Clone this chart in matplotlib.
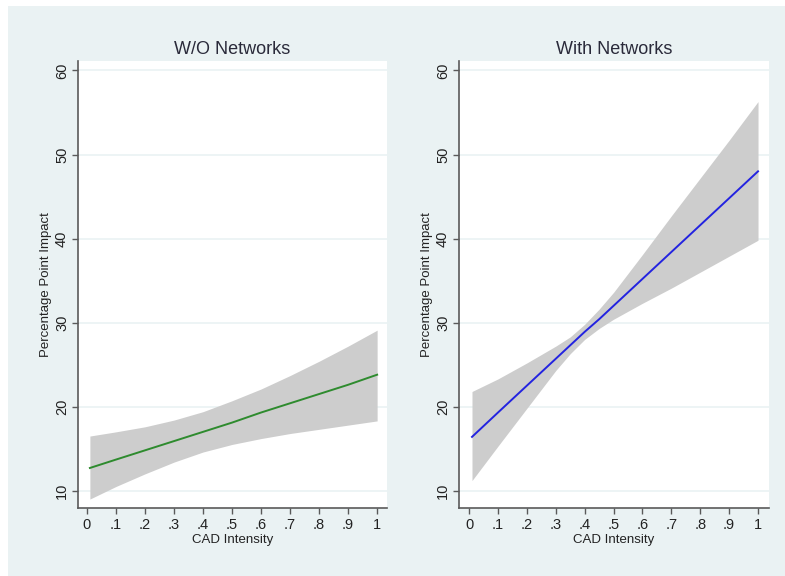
import matplotlib
matplotlib.use('Agg')
import matplotlib.pyplot as plt
from matplotlib.patches import Rectangle

plt.rcParams['font.family'] = ['Liberation Sans', 'DejaVu Sans']

# W/O Networks
cad_wo = [0.01, 0.1, 0.2, 0.3, 0.4, 0.5, 0.6, 0.7, 0.8, 0.9, 1.0]
wo_fit = [12.7, 13.7, 14.8, 15.9, 17.0, 18.1, 19.3, 20.4, 21.5, 22.6, 23.8]
wo_lo = [9.0, 10.5, 12.0, 13.4, 14.6, 15.5, 16.2, 16.8, 17.3, 17.8, 18.3]
wo_hi = [16.5, 17.0, 17.6, 18.4, 19.4, 20.7, 22.1, 23.7, 25.4, 27.2, 29.1]

# With Networks
cad_wn = [0.01, 0.1, 0.2, 0.3, 0.35, 0.4, 0.45, 0.5, 0.6, 0.7, 0.8, 0.9, 1.0]
wn_fit = [16.4, 19.3, 22.5, 25.7, 27.3, 28.9, 30.4, 32.0, 35.2, 38.4, 41.6, 44.8, 48.0]
wn_lo = [11.2, 15.3, 19.8, 24.3, 26.3, 28.0, 29.3, 30.4, 32.3, 34.1, 36.0, 37.9, 39.8]
wn_hi = [21.8, 23.3, 25.2, 27.2, 28.3, 29.8, 31.6, 33.6, 38.1, 42.7, 47.2, 51.7, 56.3]

xticks = [0, .1, .2, .3, .4, .5, .6, .7, .8, .9, 1]
xtick_labels = ['0', '.1', '.2', '.3', '.4', '.5', '.6', '.7', '.8', '.9', '1']
yticks = [10, 20, 30, 40, 50, 60]

bg = '#eaf2f3'
axis_col = '#5a5a5a'

fig = plt.figure(figsize=(7.85, 5.76), dpi=100)
fig.patch.set_facecolor('white')
fig.add_artist(Rectangle((8 / 785, 0), 1, 570 / 576, transform=fig.transFigure,
                         facecolor=bg, edgecolor='none', zorder=-10))

panels = [
    ('W/O Networks', cad_wo, wo_fit, wo_lo, wo_hi, '#2e8b2e',
     [78 / 785, 0.1181, 309 / 785, 0.776], (-0.031, 1.034)),
    ('With Networks', cad_wn, wn_fit, wn_lo, wn_hi, '#2323e0',
     [459 / 785, 0.1181, 310 / 785, 0.776], (-0.035, 1.038)),
]

for title, x, fit, lo, hi, col, rect, xl in panels:
    ax = fig.add_axes(rect)
    ax.set_facecolor('white')
    for y in yticks:
        ax.axhline(y, color=bg, lw=1.2, zorder=1)
    ax.fill_between(x, lo, hi, color='#cdcdcd', lw=0, zorder=2)
    ax.plot(x, fit, color=col, lw=1.4, zorder=3)

    ax.set_xlim(*xl)
    ax.set_ylim(7.94, 61.13)
    ax.set_xticks(xticks)
    ax.set_xticklabels(xtick_labels, fontsize=10.5, color='#222222')
    ax.set_yticks(yticks)
    ax.set_yticklabels([str(v) for v in yticks], fontsize=10.5, rotation=90,
                       va='center', color='#222222')

    for s in ['top', 'right']:
        ax.spines[s].set_visible(False)
    for s in ['left', 'bottom']:
        ax.spines[s].set_color(axis_col)
        ax.spines[s].set_linewidth(1.2)
    ax.tick_params(direction='out', length=4.5, width=1, color=axis_col, pad=3)
    ax.tick_params(axis='y', pad=2)

    ax.set_title(title, fontsize=13, color='#2a2a3a', pad=5)
    ax.set_xlabel('CAD Intensity', fontsize=9.5, color='#222222', labelpad=1)
    ax.set_ylabel('Percentage Point Impact', fontsize=9.5, color='#222222', labelpad=2)

fig.savefig('out.png', dpi=100, facecolor=fig.get_facecolor())
